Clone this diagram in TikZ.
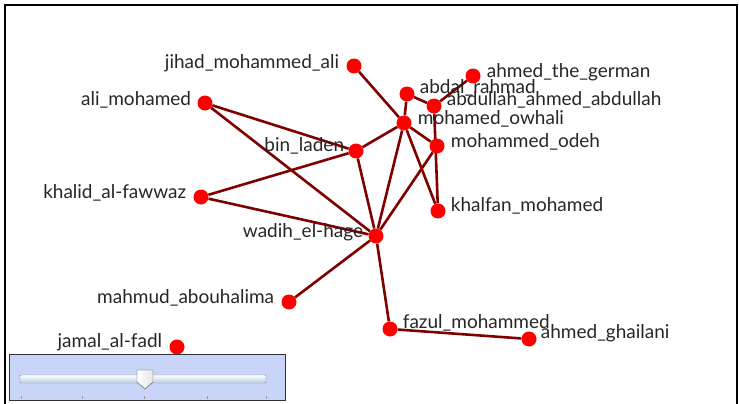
\documentclass[tikz,border=0pt]{standalone}
\usepackage{fontspec}
\setmainfont{Lato}
\usetikzlibrary{backgrounds}

\tikzset{
  actor/.style={circle, fill=red, inner sep=0pt, minimum size=15pt},
  lbl/.style={font=\fontsize{19}{22}\selectfont, text=black!85, inner sep=1pt},
  tie/.style={draw=red!50!black, line width=2.6pt},
}

\begin{document}
\begin{tikzpicture}[x=1pt, y=-1pt]
  \useasboundingbox (0,0) rectangle (739,404);
  \draw[line width=1.5pt] (5,404) -- (5,5) -- (737,5) -- (737,404);

  % actors
  \node[actor, label={[lbl, label distance=6pt, yshift=3pt]left:jihad\_mohammed\_ali}] (jihad) at (354,66) {};
  \node[actor, label={[lbl, label distance=5pt, yshift=4pt]right:ahmed\_the\_german}] (german) at (473,76) {};
  \node[actor, label={[lbl, label distance=4pt, yshift=6pt]right:abdal\_rahmad}] (abdal) at (407,94) {};
  \node[actor, label={[lbl, label distance=4pt, yshift=6pt]right:abdullah\_ahmed\_abdullah}] (abdullah) at (434,106) {};
  \node[actor, label={[lbl, label distance=5pt, yshift=4pt]right:mohamed\_owhali}] (owhali) at (404,123) {};
  \node[actor, label={[lbl, label distance=5pt, yshift=4pt]right:mohammed\_odeh}] (odeh) at (437,146) {};
  \node[actor, label={[lbl, label distance=5pt, yshift=3pt]left:ali\_mohamed}] (ali) at (205,103) {};
  \node[actor, label={[lbl, label distance=3pt, yshift=5pt]left:bin\_laden}] (binladen) at (356,151) {};
  \node[actor, label={[lbl, label distance=6pt, yshift=4pt]left:khalid\_al-fawwaz}] (khalid) at (201,197) {};
  \node[actor, label={[lbl, label distance=4pt, yshift=5pt]right:khalfan\_mohamed}] (khalfan) at (438,211) {};
  \node[actor, label={[lbl, label distance=4pt, yshift=4pt]left:wadih\_el-hage}] (wadih) at (376,236) {};
  \node[actor, label={[lbl, label distance=6pt, yshift=4pt]left:mahmud\_abouhalima}] (mahmud) at (289,302) {};
  \node[actor, label={[lbl, label distance=4pt, yshift=6pt]right:fazul\_mohammed}] (fazul) at (390,329) {};
  \node[actor, label={[lbl, label distance=3pt, yshift=6pt]right:ahmed\_ghailani}] (ghailani) at (529,339) {};
  \node[actor, label={[lbl, label distance=6pt, yshift=5pt]left:jamal\_al-fadl}] (jamal) at (177,347) {};

  % ties
  \begin{scope}[on background layer]
    \draw[tie] (jihad) -- (owhali);
    \draw[tie] (german) -- (abdullah);
    \draw[tie] (abdal) -- (abdullah);
    \draw[tie] (abdal) -- (owhali);
    \draw[tie] (abdullah) -- (khalfan);
    \draw[tie] (owhali) -- (odeh);
    \draw[tie] (owhali) -- (khalfan);
    \draw[tie] (owhali) -- (binladen);
    \draw[tie] (owhali) -- (wadih);
    \draw[tie] (odeh) -- (wadih);
    \draw[tie] (binladen) -- (wadih);
    \draw[tie] (binladen) -- (khalid);
    \draw[tie] (ali) -- (binladen);
    \draw[tie] (ali) -- (wadih);
    \draw[tie] (khalid) -- (wadih);
    \draw[tie] (wadih) -- (mahmud);
    \draw[tie] (wadih) -- (fazul);
    \draw[tie] (fazul) -- (ghailani);
  \end{scope}

  % slider panel
  \draw[fill={rgb,255:red,200;green,212;blue,248}, draw=black!80, line width=1pt] (9,354) rectangle (285,400);
  \draw[top color=white, bottom color={rgb,255:red,185;green,205;blue,230}, draw=black!45, rounded corners=1pt] (20,375) rectangle (266,383);
  \foreach \tx in {21,82,144,207,266}
    \draw[black!40] (\tx,396) -- (\tx,399);
  \draw[left color=white, right color=black!10, draw=black!70] (137,370) -- (153,370) -- (153,382) -- (145,389) -- (137,382) -- cycle;
\end{tikzpicture}
\end{document}
